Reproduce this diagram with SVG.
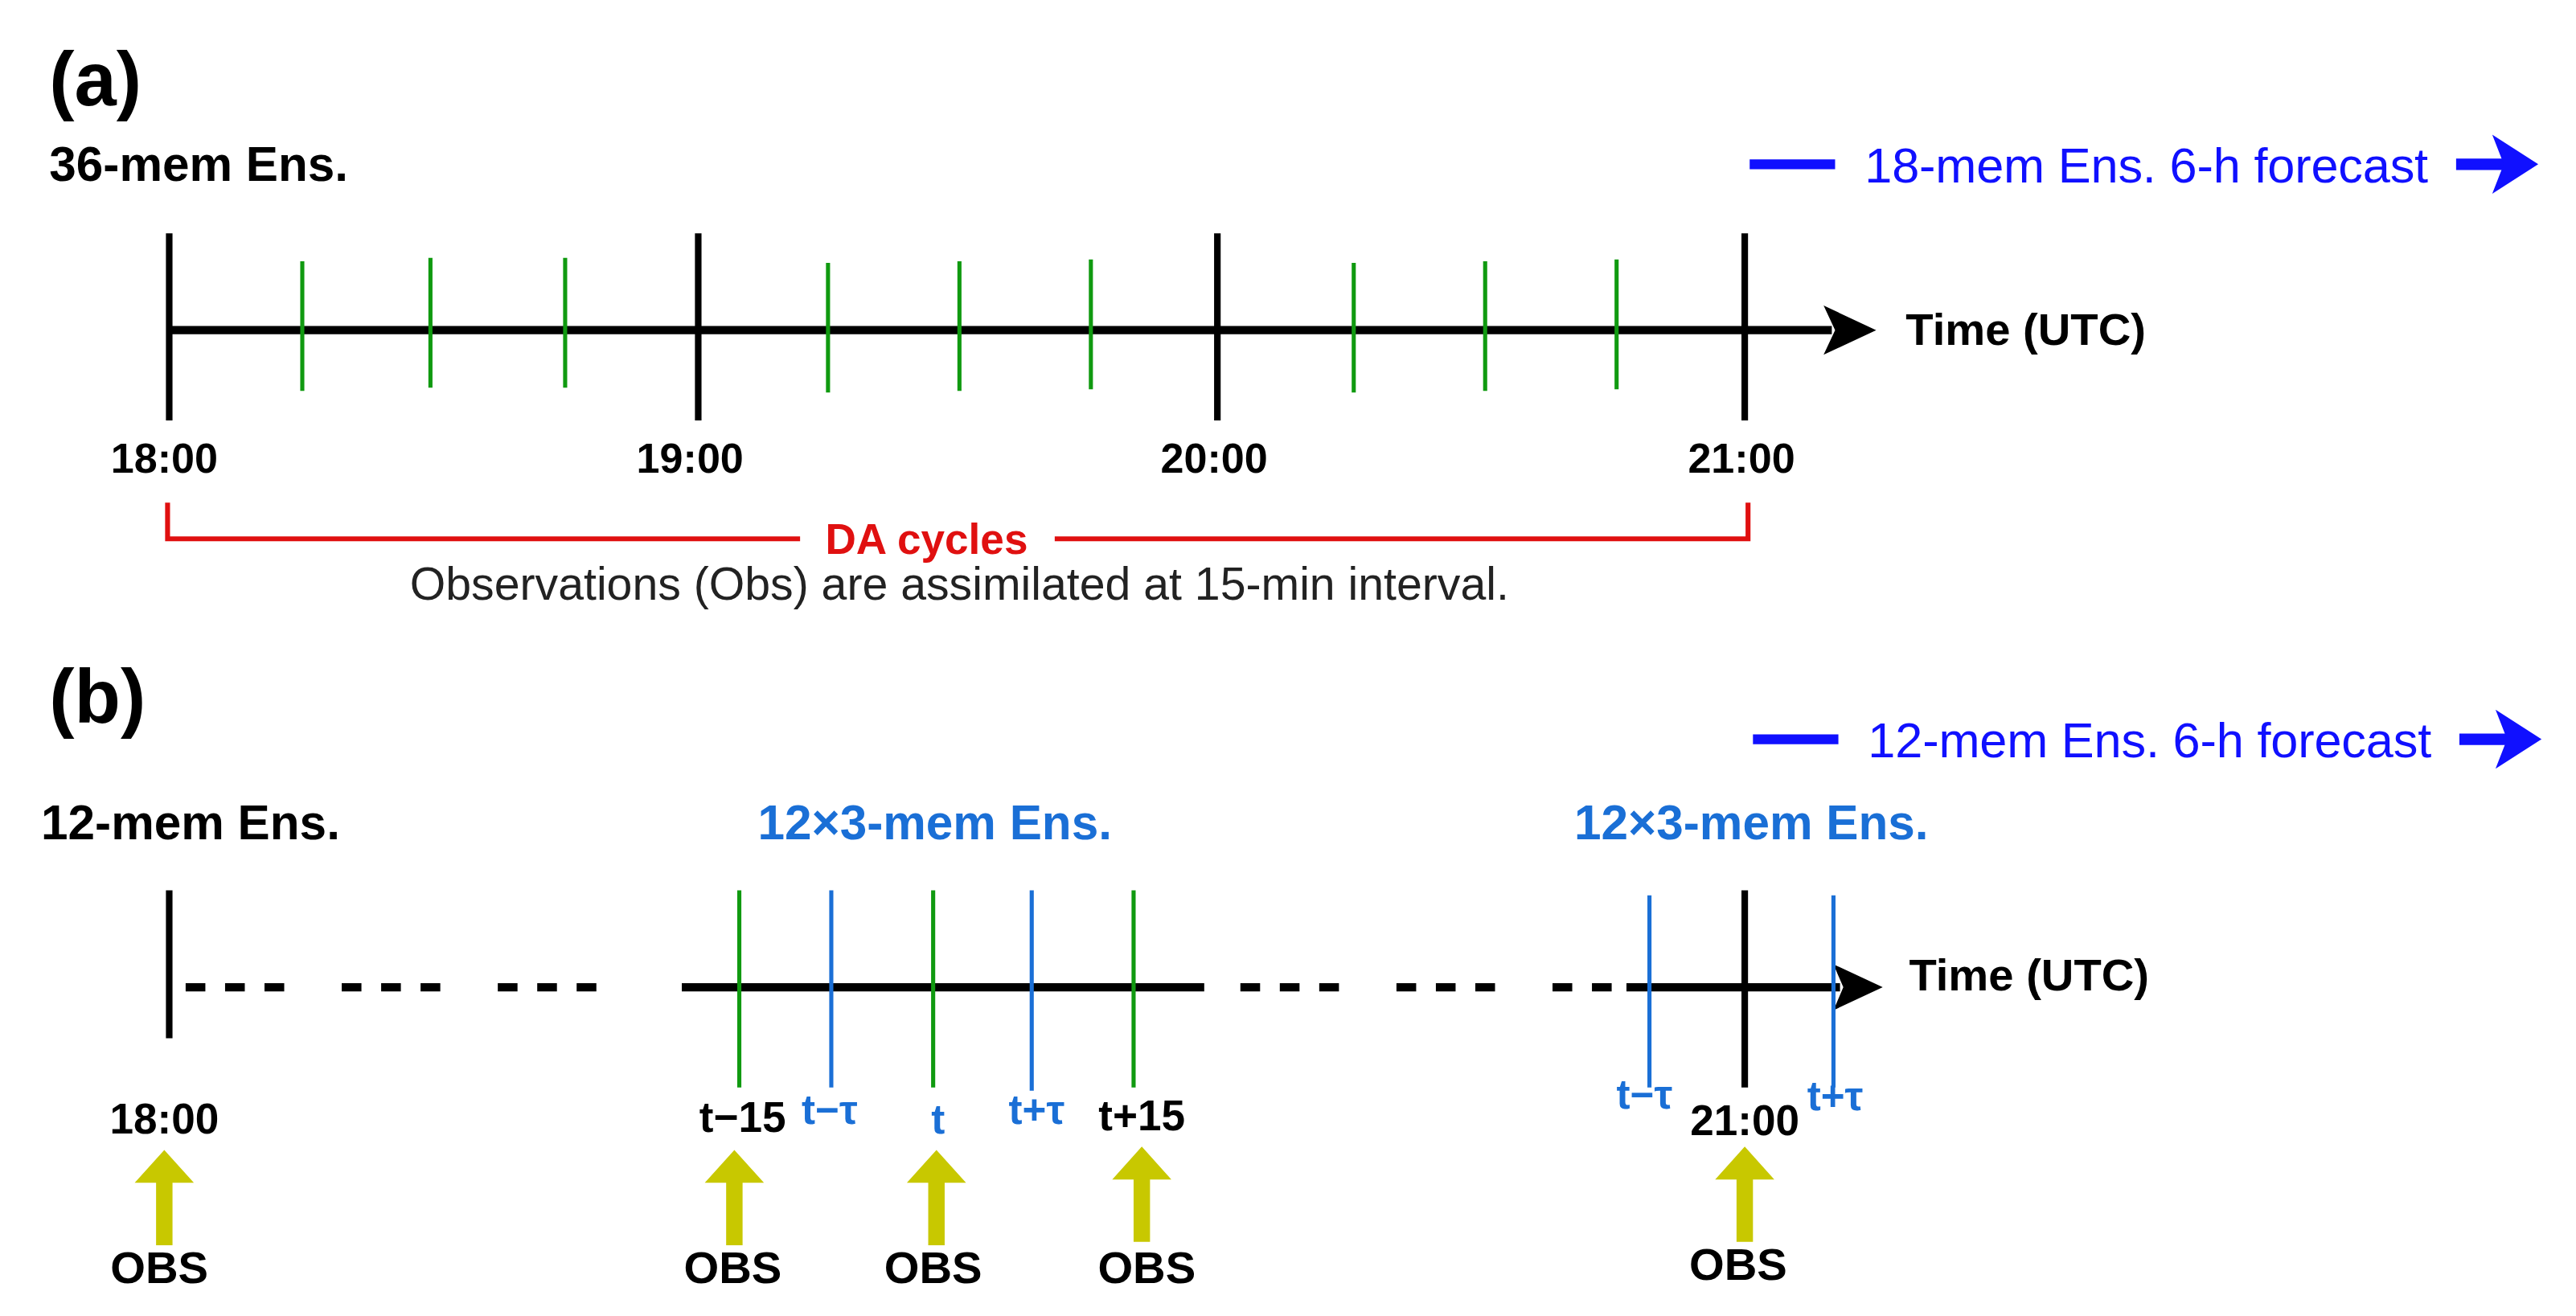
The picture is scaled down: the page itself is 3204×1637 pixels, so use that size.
<svg xmlns="http://www.w3.org/2000/svg" width="3204" height="1637" viewBox="0 0 3204 1637">
<style>
text{font-family:"Liberation Sans",Arial,sans-serif}
.b{font-weight:bold}
.k{stroke:#000;stroke-width:4}
.g{stroke:#109a10;stroke-width:2.5}
.bl{stroke:#1a6fd6;stroke-width:2.5}
.lb{fill:#1a6fd6}
.fc{fill:#1010ff}
.ax{stroke:#000;stroke-width:5;fill:none}
</style>
<rect width="3204" height="1637" fill="#fff"/>
<g transform="scale(2.0434)">
<g id="panel-a">
<text x="30" y="64" class="b" font-size="46">(a)</text>
<text x="30" y="110" class="b" font-size="29.5">36-mem Ens.</text>
<g id="forecast-a">
<line x1="1065" y1="100" x2="1117" y2="100" stroke="#1010ff" stroke-width="6"/>
<text x="1135" y="111" class="fc" font-size="30" textLength="343">18-mem Ens. 6-h forecast</text>
<path d="M1495,100 H1525" stroke="#1010ff" stroke-width="7"/>
<path d="M1517,82 L1545,100 L1517,118 L1524,100 Z" fill="#1010ff"/>
</g>
<g id="axis-a">
<line x1="103" y1="201" x2="1115" y2="201" class="ax"/>
<path d="M1110,186 L1142,201 L1110,216 L1117,201 Z" fill="#000"/>
<line x1="103" y1="142" x2="103" y2="256" class="k"/>
<line x1="425" y1="142" x2="425" y2="256" class="k"/>
<line x1="741" y1="142" x2="741" y2="256" class="k"/>
<line x1="1062" y1="142" x2="1062" y2="256" class="k"/>
<g class="g">
<line x1="184" y1="159" x2="184" y2="238"/><line x1="262" y1="157" x2="262" y2="236"/><line x1="344" y1="157" x2="344" y2="236"/>
<line x1="504" y1="160" x2="504" y2="239"/><line x1="584" y1="159" x2="584" y2="238"/><line x1="664" y1="158" x2="664" y2="237"/>
<line x1="824" y1="160" x2="824" y2="239"/><line x1="904" y1="159" x2="904" y2="238"/><line x1="984" y1="158" x2="984" y2="237"/>
</g>
<text x="1160" y="210" class="b" font-size="27.5">Time (UTC)</text>
<g class="b" font-size="25.5" text-anchor="middle">
<text x="100" y="288">18:00</text><text x="420" y="288">19:00</text><text x="739" y="288">20:00</text><text x="1060" y="288">21:00</text>
</g>
</g>
<g id="da-cycles">
<path d="M102,306 V328 H487 M642,328 H1064 V306" stroke="#e01010" stroke-width="3" fill="none"/>
<text x="564" y="337" text-anchor="middle" class="b" font-size="26" fill="#e01010">DA cycles</text>
<text x="584" y="365" text-anchor="middle" font-size="28" fill="#222">Observations (Obs) are assimilated at 15-min interval.</text>
</g>
</g>
<g id="panel-b">
<text x="30" y="440" class="b" font-size="46">(b)</text>
<g id="forecast-b">
<line x1="1067" y1="450" x2="1119" y2="450" stroke="#1010ff" stroke-width="6"/>
<text x="1137" y="461" class="fc" font-size="30" textLength="343">12-mem Ens. 6-h forecast</text>
<path d="M1497,450 H1527" stroke="#1010ff" stroke-width="7"/>
<path d="M1519,432 L1547,450 L1519,468 L1526,450 Z" fill="#1010ff"/>
</g>
<text x="25" y="511" class="b" font-size="29.5">12-mem Ens.</text>
<text x="569" y="511" class="b lb" font-size="29.5" text-anchor="middle">12×3-mem Ens.</text>
<text x="1066" y="511" class="b lb" font-size="29.5" text-anchor="middle">12×3-mem Ens.</text>
<g id="axis-b">
<path d="M113,601 H375" class="ax" stroke-dasharray="12 12 12 12 12 35"/>
<line x1="415" y1="601" x2="733" y2="601" class="ax"/>
<path d="M755,601 H990" class="ax" stroke-dasharray="12 12 12 12 12 35"/>
<line x1="990" y1="601" x2="1120" y2="601" class="ax"/>
<path d="M1116,587 L1146,601 L1116,615 L1122,601 Z" fill="#000"/>
<line x1="103" y1="542" x2="103" y2="632" class="k"/>
<line x1="1062" y1="542" x2="1062" y2="662" class="k"/>
<g class="g"><line x1="450" y1="542" x2="450" y2="662"/><line x1="568" y1="542" x2="568" y2="662"/><line x1="690" y1="542" x2="690" y2="662"/></g>
<g class="bl"><line x1="506" y1="542" x2="506" y2="662"/><line x1="628" y1="542" x2="628" y2="664"/><line x1="1004" y1="545" x2="1004" y2="662"/><line x1="1116" y1="545" x2="1116" y2="662"/></g>
<text x="1162" y="603" class="b" font-size="27.5">Time (UTC)</text>
<g class="b" font-size="26" text-anchor="middle">
<text x="100" y="690">18:00</text><text x="452" y="689">t−15</text><text x="695" y="688">t+15</text><text x="1062" y="691">21:00</text>
</g>
<g class="b lb" font-size="25" text-anchor="middle">
<text x="505" y="684">t−τ</text><text x="571" y="690">t</text><text x="631" y="684">t+τ</text><text x="1001" y="675">t−τ</text><text x="1117" y="676">t+τ</text>
</g>
</g>
<g id="obs" fill="#c8c800">
<path d="M95,758 V720 H82 L100,700 L118,720 H105 V758 Z"/>
<path d="M442,758 V720 H429 L447,700 L465,720 H452 V758 Z"/>
<path d="M565,758 V720 H552 L570,700 L588,720 H575 V758 Z"/>
<path d="M690,756 V718 H677 L695,698 L713,718 H700 V756 Z"/>
<path d="M1057,756 V718 H1044 L1062,698 L1080,718 H1067 V756 Z"/>
</g>
<g class="b" font-size="27.5" text-anchor="middle">
<text x="97" y="781">OBS</text><text x="446" y="781">OBS</text><text x="568" y="781">OBS</text><text x="698" y="781">OBS</text><text x="1058" y="779">OBS</text>
</g>
</g>
</g>
</svg>
